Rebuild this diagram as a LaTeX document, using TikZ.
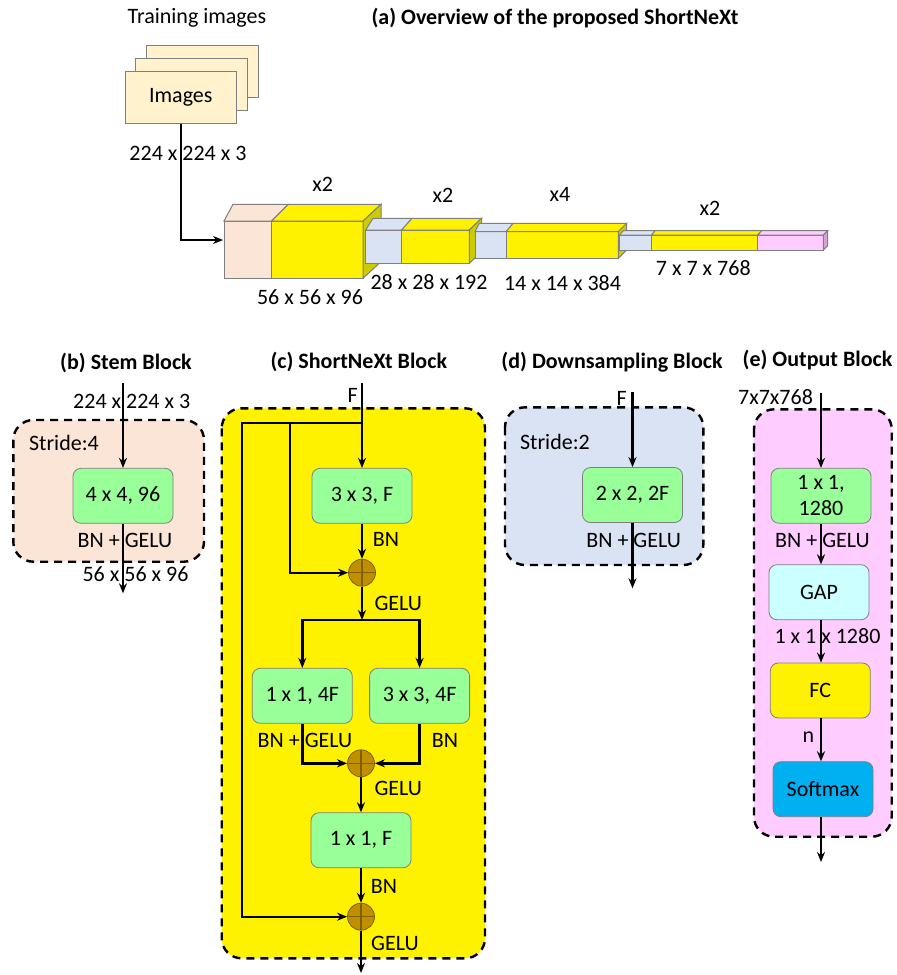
\documentclass[tikz,border=0pt]{standalone}
\usepackage{fontspec}
\setmainfont{Carlito}
\usetikzlibrary{arrows.meta,positioning}
\definecolor{imgyel}{HTML}{FFF2CC}
\definecolor{peach}{HTML}{FBE5D6}
\definecolor{paleblue}{HTML}{DAE3F3}
\definecolor{convgreen}{HTML}{99FF99}
\definecolor{sumfill}{HTML}{BF8F00}
\definecolor{sumedge}{HTML}{7F5F00}
\definecolor{outpink}{HTML}{FFCCFF}
\definecolor{pinkside}{HTML}{D9A3D9}
\definecolor{yelside}{HTML}{CCCC00}
\definecolor{gapcyan}{HTML}{CCFFFF}
\definecolor{softblue}{HTML}{00B0F0}
\definecolor{edge}{HTML}{7F7F7F}
\tikzset{
  conv/.style={draw=edge, fill=convgreen, rounded corners=4pt, minimum width=50pt,
    minimum height=27.5pt, align=center, inner sep=1pt},
  imgbox/.style={draw=edge, fill=imgyel, minimum width=55.8pt, minimum height=25.8pt},
  sum/.style={circle, draw=sumedge, fill=sumfill, minimum size=13.5pt, inner sep=0pt,
    path picture={\draw[sumedge,line width=0.6pt]
      (path picture bounding box.north)--(path picture bounding box.south)
      (path picture bounding box.west)--(path picture bounding box.east);}},
  region/.style={line width=1.2pt, dash pattern=on 4pt off 3pt, rounded corners=10pt},
  flow/.style={->, line width=1.2pt},
  ttl/.style={font=\fontsize{11}{13}\selectfont\bfseries},
  slab/.style={draw=edge, line width=0.5pt}
}
\begin{document}
\begin{tikzpicture}[x=0.5pt,y=-0.5pt,>={Stealth[length=5pt,width=4pt]},font=\fontsize{11}{13}\selectfont]
\useasboundingbox (0,0) rectangle (896,975);

% (a) overview
\node (trainlbl) at (197,18) {Training images};
\node[ttl] (ttla) at (555,18) {(a) Overview of the proposed ShortNeXt};
\node[imgbox] (img2) at (202.2,71.4) {};
\node[imgbox] (img1) at (191.4,84.4) {};
\node[imgbox] (img) at (180.8,97.5) {Images};
\node (insize) at (188,153) {224 x 224 x 3};
\coordinate (stemin) at (223,240);
\draw[flow] (img) |- (stemin);

% stage 1
\filldraw[slab,fill=peach] (224,221) rectangle (271.7,278.3);
\filldraw[slab,fill=peach] (224,221) -- (233,204.3) -- (288.3,204.3) -- (271.7,221) -- cycle;
\filldraw[slab,fill=yellow] (271.7,221) rectangle (363,278.3);
\filldraw[slab,fill=yellow] (271.7,221) -- (288.3,204.3) -- (381,204.3) -- (363,221) -- cycle;
\filldraw[slab,fill=yelside] (363,221) -- (381,204.3) -- (381,261.7) -- (363,278.3) -- cycle;
% stage 2
\filldraw[slab,fill=paleblue] (365.7,230) rectangle (401.7,263.3);
\filldraw[slab,fill=paleblue] (365.7,230) -- (373,218.3) -- (412,218.3) -- (401.7,230) -- cycle;
\filldraw[slab,fill=yellow] (401.7,230) rectangle (469.3,263.3);
\filldraw[slab,fill=yellow] (401.7,230) -- (412,218.3) -- (481.7,218.3) -- (469.3,230) -- cycle;
\filldraw[slab,fill=yelside] (469.3,230) -- (481.7,218.3) -- (481.7,251.6) -- (469.3,263.3) -- cycle;
% stage 3
\filldraw[slab,fill=paleblue] (475,231.7) rectangle (506,258.3);
\filldraw[slab,fill=paleblue] (475,231.7) -- (479.3,223.3) -- (513.3,223.3) -- (506,231.7) -- cycle;
\filldraw[slab,fill=yellow] (506,231.7) rectangle (618.3,258.3);
\filldraw[slab,fill=yellow] (506,231.7) -- (513.3,223.3) -- (626.7,223.3) -- (618.3,231.7) -- cycle;
\filldraw[slab,fill=yelside] (618.3,231.7) -- (626.7,223.3) -- (626.7,249.9) -- (618.3,258.3) -- cycle;
% stage 4
\filldraw[slab,fill=paleblue] (619.3,235) rectangle (651.7,250);
\filldraw[slab,fill=paleblue] (619.3,235) -- (623.3,230.7) -- (655,230.7) -- (651.7,235) -- cycle;
\filldraw[slab,fill=yellow] (651.7,235) rectangle (757.7,250);
\filldraw[slab,fill=yellow] (651.7,235) -- (655,230.7) -- (761.7,230.7) -- (757.7,235) -- cycle;
\filldraw[slab,fill=outpink] (757.7,235) rectangle (823.3,250);
\filldraw[slab,fill=outpink] (757.7,235) -- (761.7,230.7) -- (827.7,230.7) -- (823.3,235) -- cycle;
\filldraw[slab,fill=pinkside] (823.3,235) -- (827.7,230.7) -- (827.7,245.7) -- (823.3,250) -- cycle;

\node (rep1) at (322.7,184.3) {x2};
\node (rep2) at (443,195) {x2};
\node (rep3) at (560,194.3) {x4};
\node (rep4) at (710,208.3) {x2};
\node (dim1) at (310,297) {56 x 56 x 96};
\node (dim2) at (429,281.7) {28 x 28 x 192};
\node (dim3) at (562.5,283.3) {14 x 14 x 384};
\node (dim4) at (703.3,268.3) {7 x 7 x 768};

% (b) stem block
\node[ttl] (ttlb) at (126,363) {(b) Stem Block};
\filldraw[region,fill=peach] (13.3,420) rectangle (204,561.7);
\node[anchor=west] (stride4) at (22,443) {Stride:4};
\node[conv] (stem) at (123,495.8) {4 x 4, 96};
\node (bsize) at (131.7,401) {224 x 224 x 3};
\node (bact) at (125,540.7) {BN + GELU};
\node (bsize2) at (135.5,574) {56 x 56 x 96};
\coordinate (bin) at (123,383.3);
\coordinate (bout) at (123,593.3);
\draw[flow] (bin) -- (stem);
\draw[flow] (stem) -- (bout);

% (c) ShortNeXt block
\node[ttl] (ttlc) at (358.8,362.3) {(c) ShortNeXt Block};
\filldraw[region,fill=yellow] (221.7,408.3) rectangle (485,958.3);
\node (cf) at (352.7,395) {F};
\node[conv] (c1) at (362,495.8) {3 x 3, F};
\node[sum] (s1) at (362,572.7) {};
\node[conv] (c2) at (302.3,695.8) {1 x 1, 4F};
\node[conv] (c3) at (419.6,695.8) {3 x 3, 4F};
\node[sum] (s2) at (361,763.3) {};
\node[conv] (c4) at (361,840.2) {1 x 1, F};
\node[sum] (s3) at (361,916.7) {};
\coordinate (cin) at (362,383.3);
\coordinate (t0) at (362,422.7);
\coordinate (t1) at (290,422.7);
\coordinate (t2) at (241.7,422.7);
\coordinate (sp) at (362,620);
\coordinate (cout) at (361,973);
\node (cbn1) at (386,539.3) {BN};
\node (cgelu1) at (398.3,603.3) {GELU};
\node (cact2) at (305,740) {BN + GELU};
\node (cbn3) at (445,740) {BN};
\node (cgelu2) at (398.3,788.3) {GELU};
\node (cbn4) at (384,886.7) {BN};
\node (cgelu3) at (395,943.3) {GELU};
\draw[flow] (cin) -- (c1);
\draw[flow] (t0) -- (t2) |- (s3);
\draw[flow] (t1) |- (s1);
\draw[flow] (c1) -- (s1);
\draw[flow] (s1) -- (sp);
\draw[flow] (sp) -| (c2);
\draw[flow] (sp) -| (c3);
\draw[flow] (c2) |- (s2);
\draw[flow] (c3) |- (s2);
\draw[flow] (s2) -- (c4);
\draw[flow] (c4) -- (s3);
\draw[flow] (s3) -- (cout);

% (d) downsampling block
\node[ttl] (ttld) at (612,362) {(d) Downsampling Block};
\filldraw[region,fill=paleblue] (505,407.3) rectangle (703.3,565);
\node (df) at (621.7,398.3) {F};
\node[anchor=west] (stride2) at (513,441.7) {Stride:2};
\node[conv] (d1) at (632.5,495) {2 x 2, 2F};
\node (dact) at (633.7,540) {BN + GELU};
\coordinate (din) at (632.5,391.7);
\coordinate (dout) at (632.5,588.3);
\draw[flow] (din) -- (d1);
\draw[flow] (d1) -- (dout);

% (e) output block
\node[ttl] (ttle) at (817.5,360) {(e) Output Block};
\filldraw[region,fill=outpink] (754,409.3) rectangle (891.7,836.7);
\node[anchor=east] (esize) at (820,396.7) {7x7x768};
\node[conv] (e1) at (821,495.8) {1 x 1,\\1280};
\node (eact) at (822.5,540) {BN + GELU};
\node[conv,fill=gapcyan] (e2) at (819,592.2) {GAP};
\node (esize2) at (827.5,636) {1 x 1 x 1280};
\node[conv,fill=yellow] (e3) at (820.3,690.5) {FC};
\node (en) at (808.3,737.3) {n};
\node[conv,fill=softblue] (e4) at (823,789.2) {Softmax};
\coordinate (ein) at (821,393.3);
\coordinate (eout) at (821,862);
\draw[flow] (ein) -- (e1);
\draw[flow] (e1) -- (e1 |- e2.north);
\draw[flow] (e2.south -| ein) -- (e1 |- e3.north);
\draw[flow] (e3.south -| ein) -- (e1 |- e4.north);
\draw[flow] (e4.south -| ein) -- (eout);
\end{tikzpicture}
\end{document}
